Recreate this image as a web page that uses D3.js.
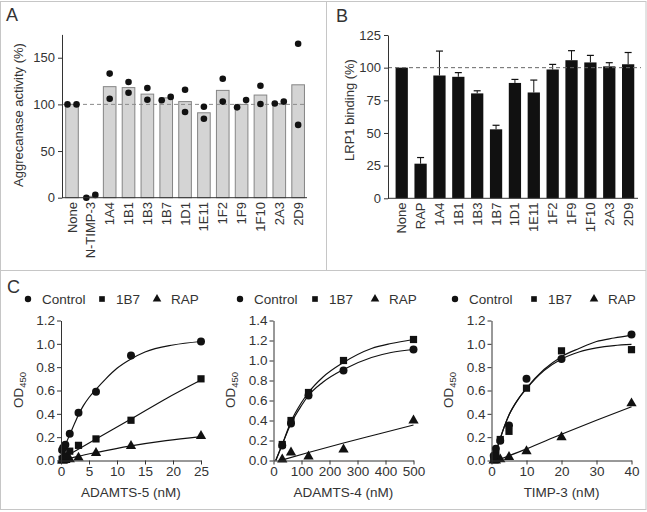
<!DOCTYPE html>
<html><head><meta charset="utf-8">
<script src="https://cdn.jsdelivr.net/npm/d3@7"></script>
<style>
body{margin:0;background:#fff}
svg{display:block}
</style>
</head><body>
<svg id="chart" width="647" height="512"></svg>
<script>
// ---------- DATA ----------
// Panel A: aggrecanase activity (%)
const catsA = ["None","N-TIMP-3","1A4","1B1","1B3","1B7","1D1","1E11","1F2","1F9","1F10","2A3","2D9"];
const barA  = [100, 1.5, 119, 118, 111, 107, 103, 91, 115, 100, 110, 101, 121];
const dotA1 = [100, 0, 133, 124, 117.5, 104.5, 115.7, 97.5, 127.5, 96.8, 120, 101, 165];
const dotA2 = [100, 3, 106, 112.5, 105, 108, 91.8, 84.6, 103, 104.6, 100.4, 103, 78];
const ticksA = [0, 50, 100, 150];

// Panel B: LRP1 binding (%)
const catsB = ["None","RAP","1A4","1B1","1B3","1B7","1D1","1E11","1F2","1F9","1F10","2A3","2D9"];
const barB  = [100, 26.5, 94, 93, 80.3, 52.8, 88.3, 81, 98.6, 105.7, 104, 101, 102.6];
const errB  = [0, 4.7, 18.7, 3.2, 2, 3.1, 2.7, 9.5, 3.9, 7.3, 5.4, 2.8, 9];
const ticksB = [0, 25, 50, 75, 100, 125];

// Panel C1: ADAMTS-5
const x5     = [0.195, 0.39, 0.78, 1.56, 3.125, 6.25, 12.5, 25];
const ctrl5  = [0.09, 0.11, 0.135, 0.23, 0.41, 0.59, 0.90, 1.02];
const b7_5   = [0.01, 0.02, 0.04, 0.08, 0.13, 0.185, 0.345, 0.70];
const rap5   = [0.0, 0.0, 0.005, 0.01, 0.025, 0.065, 0.125, 0.21];
const fitCtrl5 = [[0,0.07],[1,0.16],[2,0.27],[3,0.38],[4,0.47],[5,0.54],[6.25,0.61],[8,0.70],[10,0.79],[12.5,0.87],[15,0.93],[20,0.99],[25,1.02]];
const fitB7_5  = [[0,0.01],[6.25,0.185],[12.5,0.355],[18.75,0.53],[25,0.69]];
const fitRap5  = [[0,0.0],[3,0.035],[6.25,0.068],[12.5,0.125],[18.75,0.17],[25,0.205]];

// Panel C2: ADAMTS-4
const x4     = [31.25, 62.5, 125, 250, 500];
const ctrl4  = [0.15, 0.37, 0.65, 0.90, 1.11];
const b7_4   = [0.16, 0.40, 0.68, 1.00, 1.21];
const rap4   = [0.01, 0.08, 0.04, 0.11, 0.40];
const fitCtrl4 = [[8,0],[31.25,0.16],[62.5,0.37],[100,0.55],[125,0.65],[175,0.78],[250,0.91],[350,1.03],[420,1.08],[500,1.11]];
const fitB7_4  = [[8,0],[31.25,0.16],[62.5,0.39],[100,0.58],[125,0.68],[175,0.83],[250,0.98],[350,1.12],[420,1.17],[500,1.21]];
const fitRap4  = [[25,0],[125,0.08],[250,0.175],[375,0.265],[500,0.355]];

// Panel C3: TIMP-3
const x3     = [0.625, 1.25, 2.5, 5, 10, 20, 40];
const ctrl3  = [0.04, 0.10, 0.17, 0.30, 0.70, 0.87, 1.08];
const b7_3   = [0.02, 0.05, 0.18, 0.25, 0.62, 0.94, 0.95];
const rap3   = [0.0, 0.0, 0.01, 0.03, 0.08, 0.20, 0.49];
const fitCtrl3 = [[0.6,0],[1.25,0.07],[2.5,0.19],[5,0.39],[7.5,0.52],[10,0.62],[15,0.78],[20,0.89],[25,0.96],[30,1.02],[35,1.05],[40,1.075]];
const fitB7_3  = [[0.6,0],[1.25,0.07],[2.5,0.19],[5,0.39],[7.5,0.52],[10,0.615],[15,0.77],[20,0.87],[25,0.93],[30,0.965],[35,0.985],[40,0.995]];
const fitRap3  = [[1.5,0],[10,0.1],[20,0.225],[30,0.345],[40,0.46]];

const legendLabels = ["Control","1B7","RAP"];

// ---------- DRAW ----------
const FONT = '"Liberation Sans", Arial, Helvetica, sans-serif';
const INK = "#333";
const svg = d3.select("#chart");
svg.append("rect").attr("width",647).attr("height",512).attr("fill","#fff");

// frame
const fr = svg.append("g").attr("stroke","#c6c6c6").attr("fill","none").attr("stroke-width",1);
fr.append("rect").attr("x",0.5).attr("y",1.5).attr("width",645.5).attr("height",508);
fr.append("line").attr("x1",326.5).attr("x2",326.5).attr("y1",1.5).attr("y2",270.5);
fr.append("line").attr("x1",0.5).attr("x2",646).attr("y1",270.5).attr("y2",270.5);

function panelLabel(t,x,y){
  svg.append("text").attr("x",x).attr("y",y).text(t)
    .attr("font-family",FONT).attr("font-size",18).attr("fill",INK);
}
panelLabel("A",6,21); panelLabel("B",336,22); panelLabel("C",7,293);

function styleAxis(g,size){
  g.attr("font-family",FONT).attr("font-size",size||13);
  g.selectAll("text").attr("fill",INK);
  g.selectAll("line,path").attr("stroke",INK);
}
function rotTitle(x,y,t,size){
  svg.append("text").attr("transform",`translate(${x},${y}) rotate(-90)`)
    .attr("text-anchor","middle").attr("dy","0.35em")
    .attr("font-family",FONT).attr("font-size",size||13).attr("fill",INK).text(t);
}

// ----- Panel A -----
{
  const x = d3.scaleBand().domain(catsA).range([62,307]).paddingInner(0.33).paddingOuter(0.165).align(0.59);
  const y = d3.scaleLinear().domain([0,175]).range([197.7,34.4]);
  const g = svg.append("g");
  g.selectAll("rect.bar").data(catsA).join("rect")
    .attr("x",d=>x(d)).attr("width",x.bandwidth())
    .attr("y",(d,i)=>y(barA[i])).attr("height",(d,i)=>y(0)-y(barA[i]))
    .attr("fill","#d4d4d4").attr("stroke","#858585").attr("stroke-width",1);
  g.append("line").attr("x1",62).attr("x2",307).attr("y1",y(100)).attr("y2",y(100))
    .attr("stroke","#8a8a8a").attr("stroke-dasharray","4,3");
  // dots: spread horizontally only when the pair would overlap
  catsA.forEach((c,i)=>{
    const cx = x(c)+x.bandwidth()/2;
    const a=dotA1[i], b=dotA2[i];
    const overlap = Math.abs(y(a)-y(b)) < 8;
    const lo=Math.min(a,b), hi=Math.max(a,b);
    [[lo, overlap?-4.5:0],[hi, overlap?4.5:0]].forEach(([v,dx])=>{
      g.append("circle").attr("cx",cx+dx).attr("cy",y(v)).attr("r",3.3).attr("fill","#111");
    });
  });
  const ya = svg.append("g").attr("transform","translate(62,0)")
    .call(d3.axisLeft(y).tickValues(ticksA).tickSize(4).tickSizeOuter(0).tickPadding(3));
  styleAxis(ya);
  svg.append("line").attr("x1",62).attr("x2",307).attr("y1",y(0)).attr("y2",y(0)).attr("stroke",INK);
  catsA.forEach(c=>{
    svg.append("text").attr("transform",`translate(${x(c)+x.bandwidth()/2},202) rotate(-90)`)
      .attr("text-anchor","end").attr("dy","0.35em").attr("font-family",FONT).attr("font-size",13)
      .attr("fill",INK).text(c);
  });
  rotTitle(18,115,"Aggrecanase activity (%)");
}

// ----- Panel B -----
{
  const x = d3.scaleBand().domain(catsB).range([388,638]).paddingInner(0.35).paddingOuter(0.3).align(0.67);
  const y = d3.scaleLinear().domain([0,125]).range([198.3,35]);
  const g = svg.append("g");
  g.selectAll("rect.bar").data(catsB).join("rect")
    .attr("x",d=>x(d)).attr("width",x.bandwidth())
    .attr("y",(d,i)=>y(barB[i])).attr("height",(d,i)=>y(0)-y(barB[i]))
    .attr("fill","#111");
  catsB.forEach((c,i)=>{
    if(!errB[i]) return;
    const cx = x(c)+x.bandwidth()/2;
    g.append("line").attr("x1",cx).attr("x2",cx).attr("y1",y(barB[i])).attr("y2",y(barB[i]+errB[i])).attr("stroke","#111");
    g.append("line").attr("x1",cx-3.5).attr("x2",cx+3.5).attr("y1",y(barB[i]+errB[i])).attr("y2",y(barB[i]+errB[i])).attr("stroke","#111").attr("stroke-width",1.2);
  });
  g.append("line").attr("x1",388).attr("x2",641).attr("y1",y(100)).attr("y2",y(100))
    .attr("stroke","#666").attr("stroke-dasharray","4,3");
  const ya = svg.append("g").attr("transform","translate(388,0)")
    .call(d3.axisLeft(y).tickValues(ticksB).tickSize(4).tickSizeOuter(0).tickPadding(3));
  styleAxis(ya);
  svg.append("line").attr("x1",388).attr("x2",638).attr("y1",y(0)).attr("y2",y(0)).attr("stroke",INK);
  catsB.forEach(c=>{
    svg.append("text").attr("transform",`translate(${x(c)+x.bandwidth()/2},202.5) rotate(-90)`)
      .attr("text-anchor","end").attr("dy","0.35em").attr("font-family",FONT).attr("font-size",13)
      .attr("fill",INK).text(c);
  });
  rotTitle(349,110,"LRP1 binding (%)");
}

// ----- Panel C -----
const sym = [d3.symbolCircle, d3.symbolSquare, d3.symbolTriangle];
const symSize = [50, 52, 46];
function xyPlot(cfg){
  const x = d3.scaleLinear().domain(cfg.xDomain).range([cfg.left, cfg.left+140]);
  const y = d3.scaleLinear().domain(cfg.yDomain).range([460.5, 320.5]);
  const g = svg.append("g");
  const line = d3.line().x(d=>x(d[0])).y(d=>y(d[1])).curve(d3.curveMonotoneX);
  cfg.fits.forEach(f=>{
    g.append("path").attr("d",line(f)).attr("fill","none").attr("stroke","#111").attr("stroke-width",1.2);
  });
  // draw order: RAP, 1B7, Control
  [2,1,0].forEach(k=>{
    cfg.series[k].forEach((v,i)=>{
      g.append("path").attr("d",d3.symbol().type(sym[k]).size(symSize[k])())
        .attr("transform",`translate(${x(cfg.xs[i])},${y(v)})`).attr("fill","#111");
    });
  });
  const xa = svg.append("g").attr("transform","translate(0,460.5)")
    .call(d3.axisBottom(x).tickValues(cfg.xTicks).tickSize(4).tickSizeOuter(0).tickPadding(2).tickFormat(d3.format("d")));
  styleAxis(xa,13.5);
  const ya = svg.append("g").attr("transform",`translate(${cfg.left},0)`)
    .call(d3.axisLeft(y).tickValues(cfg.yTicks).tickSize(4).tickSizeOuter(0).tickPadding(2).tickFormat(d3.format(".1f")));
  styleAxis(ya,13.5);
  svg.append("text").attr("x",cfg.left+70).attr("y",497).attr("text-anchor","middle")
    .attr("font-family",FONT).attr("font-size",13.5).attr("fill",INK).text(cfg.title);
  const od = svg.append("text").attr("transform",`translate(${cfg.left-43},390) rotate(-90)`)
    .attr("text-anchor","middle").attr("dy","0.35em").attr("font-family",FONT).attr("font-size",13.5).attr("fill",INK);
  od.append("tspan").text("OD");
  od.append("tspan").attr("font-size",9.5).attr("dy",3).text("450");
  // legend
  legendLabels.forEach((lab,k)=>{
    const lx = cfg.legendX[k];
    svg.append("path").attr("d",d3.symbol().type(sym[k]).size(32)())
      .attr("transform",`translate(${lx},299)`).attr("fill","#111");
    svg.append("text").attr("x",lx+14).attr("y",299).attr("dy","0.35em")
      .attr("font-family",FONT).attr("font-size",13.5).attr("fill",INK).text(lab);
  });
}
const yt12 = [0,0.2,0.4,0.6,0.8,1.0,1.2];
const yt14 = [0,0.2,0.4,0.6,0.8,1.0,1.2,1.4];
xyPlot({left:61, xDomain:[0,25], yDomain:[0,1.2], xTicks:[0,5,10,15,20,25], yTicks:yt12,
  xs:x5, series:[ctrl5,b7_5,rap5], fits:[fitCtrl5,fitB7_5,fitRap5], title:"ADAMTS-5 (nM)", legendX:[28,102,157]});
xyPlot({left:273.5, xDomain:[0,500], yDomain:[0,1.4], xTicks:[0,100,200,300,400,500], yTicks:yt14,
  xs:x4, series:[ctrl4,b7_4,rap4], fits:[fitCtrl4,fitB7_4,fitRap4], title:"ADAMTS-4 (nM)", legendX:[240,315,375]});
xyPlot({left:491.5, xDomain:[0,40], yDomain:[0,1.2], xTicks:[0,10,20,30,40], yTicks:yt12,
  xs:x3, series:[ctrl3,b7_3,rap3], fits:[fitCtrl3,fitB7_3,fitRap3], title:"TIMP-3 (nM)", legendX:[455,534,594]});
</script>
</body></html>
